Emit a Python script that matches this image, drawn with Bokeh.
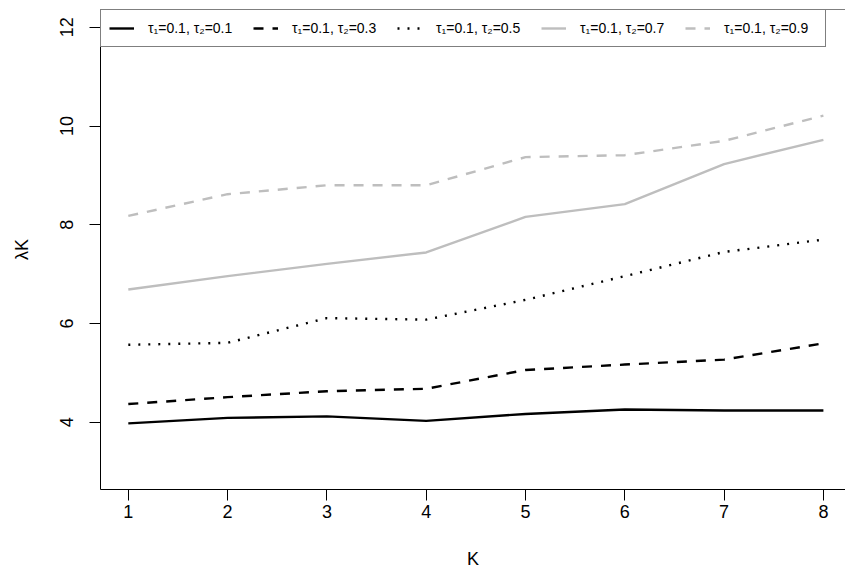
from bokeh.plotting import figure
from bokeh.models import Range1d, FixedTicker, Legend, LegendItem, Span
from bokeh.embed import file_html
from bokeh.resources import INLINE

# ---- data ----
K = [1, 2, 3, 4, 5, 6, 7, 8]
tau1 = 0.1
tau2_values = [0.1, 0.3, 0.5, 0.7, 0.9]
lam_t01 = [3.98, 4.09, 4.12, 4.03, 4.17, 4.26, 4.24, 4.24]
lam_t03 = [4.37, 4.51, 4.63, 4.68, 5.06, 5.17, 5.27, 5.60]
lam_t05 = [5.57, 5.61, 6.11, 6.08, 6.48, 6.96, 7.45, 7.70]
lam_t07 = [6.69, 6.96, 7.21, 7.44, 8.16, 8.42, 9.23, 9.72]
lam_t09 = [8.18, 8.62, 8.80, 8.80, 9.37, 9.41, 9.70, 10.21]
series = [lam_t01, lam_t03, lam_t05, lam_t07, lam_t09]
x_ticks = [1, 2, 3, 4, 5, 6, 7, 8]
y_ticks = [4, 6, 8, 10, 12]

# ---- styles ----
colors = ["black", "black", "black", "#BEBEBE", "#BEBEBE"]
dashes = ["solid", "10 9", "2 8", "solid", "10 9"]
FONT = "Liberation Sans"

# layout (pixels)
FRAME_W, FRAME_H = 745, 480
BORDER_L, BORDER_T = 100, 9
x_start, x_end = 0.72, 0.72 + 745 / 99.3
y_lo, y_hi = 2.64, 12.36

p = figure(width=845, height=579, output_backend="svg", toolbar_location=None,
           x_range=Range1d(x_start, x_end), y_range=Range1d(y_lo, y_hi),
           min_border_left=BORDER_L, min_border_right=0, min_border_top=BORDER_T,
           min_border_bottom=579 - BORDER_T - FRAME_H)
p.outline_line_color = None
p.xgrid.visible = False
p.ygrid.visible = False
p.background_fill_color = "white"
p.border_fill_color = "white"

items = []
for vals, c, d, t2 in zip(series, colors, dashes, tau2_values):
    r = p.line(K, vals, line_color=c, line_width=2.4, line_dash=d)
    items.append(LegendItem(label=f"τ₁={tau1}, τ₂={t2}", renderers=[r]))

# axes
for ax in (p.xaxis[0], p.yaxis[0]):
    ax.axis_line_color = "black"
    ax.axis_line_width = 1
    ax.major_tick_line_color = "black"
    ax.major_tick_out = 11
    ax.major_tick_in = 0
    ax.minor_tick_line_color = None
    ax.major_label_text_font = FONT
    ax.major_label_text_font_size = "18px"
    ax.major_label_text_color = "black"
    ax.axis_label_text_font = FONT
    ax.axis_label_text_font_size = "18px"
    ax.axis_label_text_font_style = "normal"
    ax.axis_label_text_color = "black"

p.xaxis[0].ticker = FixedTicker(ticks=x_ticks)
p.yaxis[0].ticker = FixedTicker(ticks=y_ticks)
p.xaxis[0].major_label_standoff = 4
p.yaxis[0].major_label_standoff = 16
p.yaxis[0].major_label_orientation = "vertical"

p.xaxis[0].axis_label = "K"
p.xaxis[0].axis_label_standoff = 28
p.yaxis[0].axis_label = "λK"
p.yaxis[0].axis_label_standoff = 26

# top box line
p.add_layout(Span(location=y_hi, dimension="width", line_color="black", line_width=1))

legend = Legend(items=items, orientation="horizontal", location="top_left",
                margin=0, padding=8, spacing=12, glyph_width=25, glyph_height=20,
                label_standoff=14, label_width=93, label_height=20,
                label_text_font=FONT, label_text_font_size="14px",
                label_text_color="black",
                border_line_color="black", border_line_width=1,
                background_fill_color="white", background_fill_alpha=1.0)
p.add_layout(legend, "center")

open("out.html", "w").write(file_html(p, INLINE))
